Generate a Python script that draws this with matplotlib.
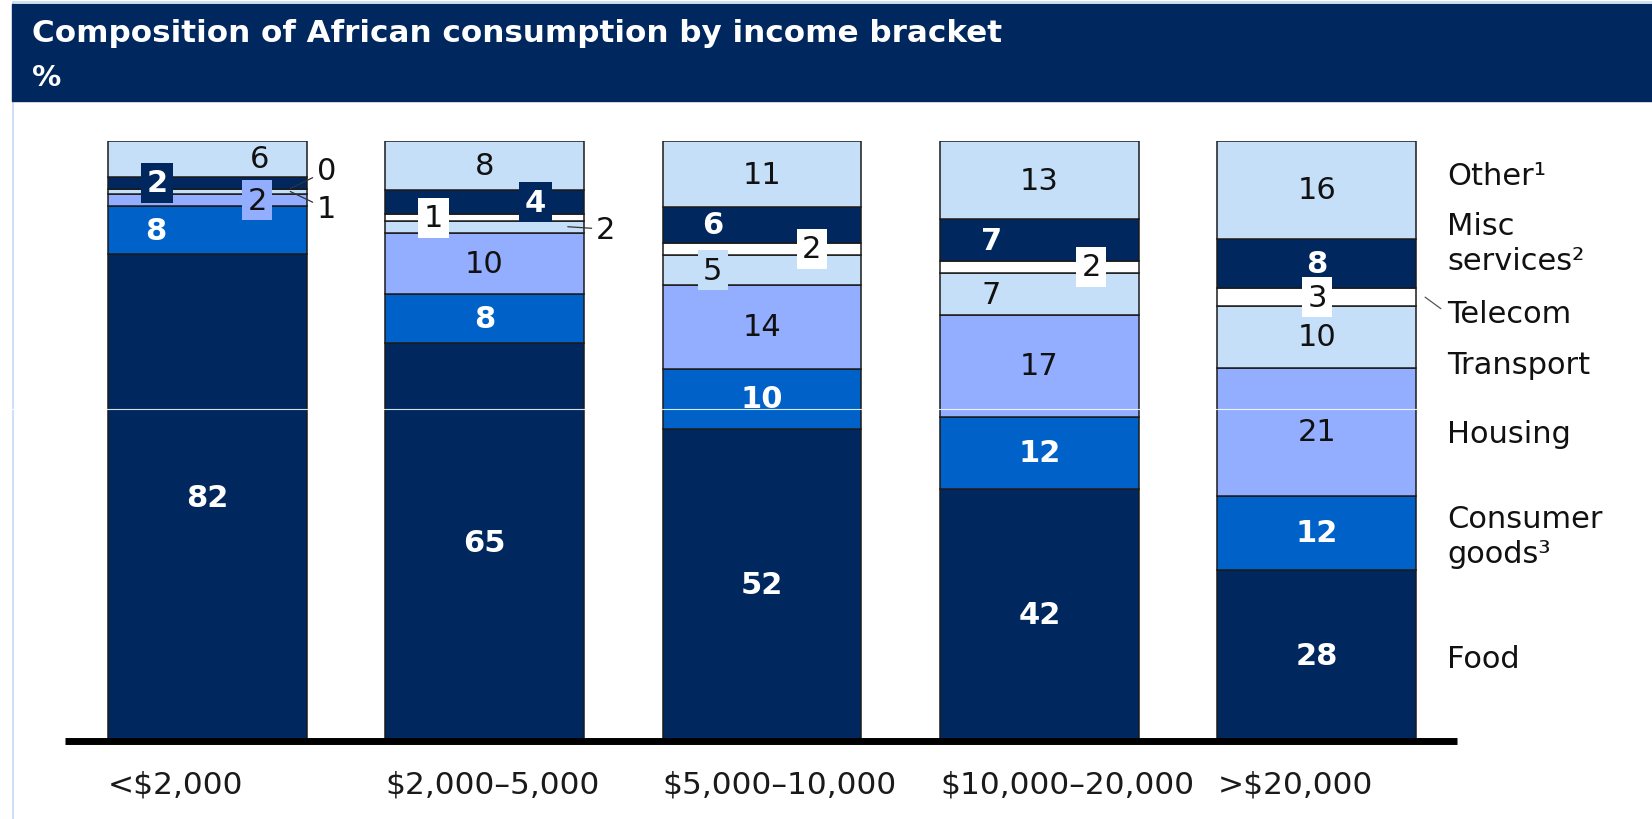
import numpy as np
import matplotlib
matplotlib.use("Agg")
import matplotlib.pyplot as plt
from matplotlib.patches import Rectangle
from matplotlib.lines import Line2D

plt.rcParams['font.family'] = ['DejaVu Sans']

# x categories
brackets = ['<$2,000', '$2,000–5,000', '$5,000–10,000', '$10,000–20,000', '>$20,000']

# stack order, bottom to top
categories = ['Food', 'Consumer\ngoods³', 'Housing', 'Transport', 'Telecom',
              'Misc\nservices²', 'Other¹']

# share of consumption in %, as printed on the chart
food = [82, 65, 52, 42, 28]
consumer_goods = [8, 8, 10, 12, 12]
housing = [2, 10, 14, 17, 21]
transport = [1, 2, 5, 7, 10]
telecom = [0, 1, 2, 2, 3]
misc_services = [2, 4, 6, 7, 8]
other = [6, 8, 11, 13, 16]

NAVY = '#00285E'
BLUE = '#0062C8'
PERI = '#93AEFF'
LIGHT = '#C6DFF8'
seg_colors = [NAVY, BLUE, PERI, LIGHT, 'white', NAVY, LIGHT]
white_text = [True, True, False, False, False, True, False]

# label placement tweaks: (bar, segment) -> horizontal offset from bar centre
label_dx = {(0, 1): -0.184, (0, 2): 0.18, (0, 5): -0.18, (0, 6): 0.19,
            (1, 4): -0.184, (1, 5): 0.184,
            (2, 3): -0.177, (2, 4): 0.18, (2, 5): -0.177,
            (3, 3): -0.173, (3, 4): 0.187, (3, 5): -0.173}
boxed = {(0, 2), (0, 5), (1, 4), (1, 5), (2, 3), (2, 4), (3, 4), (4, 4)}
# labels put outside the bar with a leader line: (dx, y)
outside = {(0, 4): (0.43, 95.0), (0, 3): (0.43, 88.7), (1, 3): (0.436, 85.3)}
# right-hand legend label heights (in % of bar height)
legend_y = [13.7, 34.2, 51.2, 62.7, 71.3, 83.0, 94.3]

W, H = 1652, 820
fig = plt.figure(figsize=(W / 100, H / 100), dpi=100)

# header band and thin frame
fig.add_artist(Rectangle((13 / W, -0.1), 1.0, (H - 3) / H + 0.1, transform=fig.transFigure,
                         facecolor='none', edgecolor='#C4DCF5', lw=1.2, zorder=0))
fig.add_artist(Rectangle((12 / W, (H - 102) / H), 1 - 12 / W, 97 / H,
                         transform=fig.transFigure, color=NAVY, zorder=1))
fig.text(32 / W, (H - 34) / H, 'Composition of African consumption by income bracket',
         color='white', fontsize=22.3, fontweight='bold', va='center', ha='left')
fig.text(32 / W, (H - 78) / H, '%', color='white', fontsize=21, fontweight='bold',
         va='center', ha='left')

ax = fig.add_axes([65 / W, (H - 742) / H, (1457 - 65) / W, 600 / H])
ax.set_xlim(-0.512, 4.505)
ax.set_ylim(0, 100)
ax.axis('off')

series = np.array([food, consumer_goods, housing, transport, telecom, misc_services, other],
                  dtype=float)
shares = series / series.sum(axis=0) * 100
bottoms = np.vstack([np.zeros(series.shape[1]), np.cumsum(shares, axis=0)[:-1]])
x = np.arange(len(brackets))
bar_w = 0.717

for k in range(len(categories)):
    ax.bar(x, shares[k], bar_w, bottom=bottoms[k], color=seg_colors[k],
           edgecolor='#1b1b1b', linewidth=1.1, zorder=2)

for i in range(len(brackets)):
    for k in range(len(categories)):
        val = int(series[k, i])
        mid = bottoms[k, i] + shares[k, i] / 2
        if white_text[k]:
            style = dict(color='white', fontweight='bold')
        else:
            style = dict(color='#111111')
        if (i, k) in outside:
            dx, ly = outside[(i, k)]
            ax.annotate(str(val), xy=(i + 0.30, mid), xytext=(i + dx, ly),
                        ha='center', va='center', fontsize=22, color='#111111',
                        arrowprops=dict(arrowstyle='-', color='#333333', lw=0.9,
                                        shrinkA=1, shrinkB=0),
                        zorder=5)
            continue
        bbox = None
        if (i, k) in boxed:
            bbox = dict(boxstyle='square,pad=0.18', facecolor=seg_colors[k],
                        edgecolor='none')
        ax.text(i + label_dx.get((i, k), 0), mid, str(val), ha='center', va='center',
                fontsize=22, bbox=bbox, zorder=5, **style)

# baseline
ax.axhline(0, color='black', lw=5, solid_capstyle='butt', clip_on=False, zorder=4)

# bracket labels, left aligned with each bar
for i, b in enumerate(brackets):
    ax.text(i - bar_w / 2, -7.2, b, ha='left', va='center', fontsize=22.5, color='#1a1a1a')

# category labels on the right
leg_x = 4 + 0.469
for k, name in enumerate(categories):
    if name == 'Telecom':
        mid = bottoms[k, -1] + shares[k, -1] / 2
        ax.annotate(name, xy=(4 + 0.39, mid), xytext=(leg_x, legend_y[k]),
                    ha='left', va='center', fontsize=22, color='#111111',
                    arrowprops=dict(arrowstyle='-', color='#555555', lw=0.9,
                                    relpos=(0, 0.5), shrinkA=3, shrinkB=0))
    else:
        ax.text(leg_x, legend_y[k], name, ha='left', va='center', fontsize=22,
                color='#111111', linespacing=1.28)

# faint seam line visible in the source image
fig.add_artist(Line2D([0, 1], [0.5, 0.5], transform=fig.transFigure, color='white',
                      lw=0.8, alpha=0.85, zorder=10))

fig.savefig('out.png', dpi=100)
